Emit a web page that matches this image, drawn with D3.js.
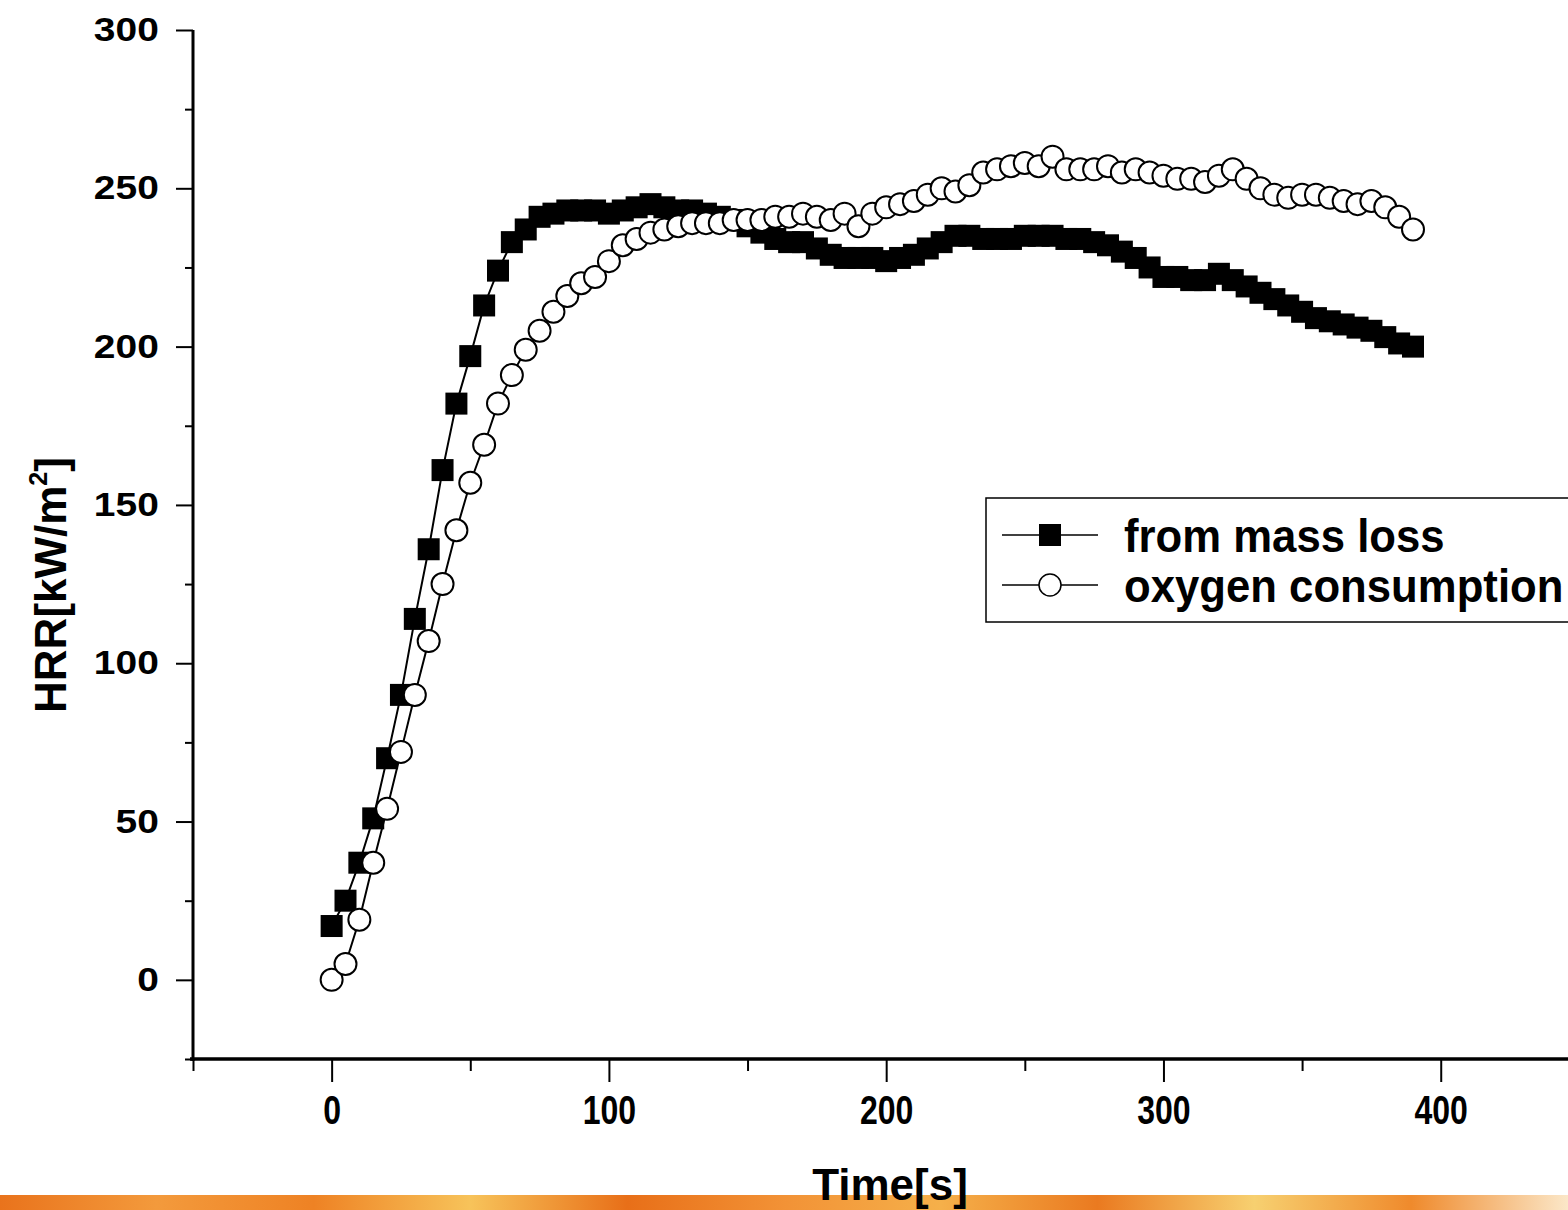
<!DOCTYPE html>
<html>
<head>
<meta charset="utf-8">
<script src="https://cdn.jsdelivr.net/npm/d3@7"></script>
<style>
  html, body { margin: 0; padding: 0; background: #fff; overflow: hidden; }
  text { font-family: "Liberation Sans", Arial, sans-serif; font-weight: bold; fill: #000; }
</style>
</head>
<body>
<script>
// time in seconds, every 5 s
const times = d3.range(0, 395, 5);

// HRR from mass loss (kW/m2)
const massLoss = [17, 25, 37, 51, 70, 90, 114, 136, 161, 182, 197, 213, 224, 233, 237, 241, 242, 243, 243, 243,
  242, 243, 244, 245, 244, 243, 243, 242, 241, 240, 238, 236, 234, 233, 233, 231, 229, 228, 228, 228,
  227, 228, 229, 231, 233, 235, 235, 234, 234, 234, 235, 235, 235, 234, 234, 233, 232, 230, 228, 225,
  222, 222, 221, 221, 223, 221, 219, 217, 215, 213, 211, 209, 208, 207, 206, 205, 203, 201, 200];

// HRR from oxygen consumption (kW/m2)
const oxygen = [0, 5, 19, 37, 54, 72, 90, 107, 125, 142, 157, 169, 182, 191, 199, 205, 211, 216, 220, 222,
  227, 232, 234, 236, 237, 238, 239, 239, 239, 240, 240, 240, 241, 241, 242, 241, 240, 242, 238, 242,
  244, 245, 246, 248, 250, 249, 251, 255, 256, 257, 258, 257, 260, 256, 256, 256, 257, 255, 256, 255,
  254, 253, 253, 252, 254, 256, 253, 250, 248, 247, 248, 248, 247, 246, 245, 246, 244, 241, 237];

const xMajor = [0, 100, 200, 300, 400];
const xMinor = [-50, 50, 150, 250, 350, 450];
const yMajor = [0, 50, 100, 150, 200, 250, 300];
const yMinor = [-25, 25, 75, 125, 175, 225, 275];
const legendLabels = ["from mass loss", "oxygen consumption"];

const W = 1568, H = 1210;
const svg = d3.select("body").append("svg").attr("width", W).attr("height", H);

const x = d3.scaleLinear().domain([-50, 500]).range([193, 1718]);
const y = d3.scaleLinear().domain([-25, 300]).range([1059, 30]);

// orange strip at the bottom (slide background)
const grad = svg.append("defs").append("linearGradient").attr("id", "strip");
["#e9731c", "#f39a3c", "#ee8224", "#f7c35a", "#e86f18", "#f29236", "#f5b04a", "#ea7a20", "#f7d070", "#ef8a2c", "#fbe7c8"]
  .forEach((c, i, a) => grad.append("stop").attr("offset", i / (a.length - 1)).attr("stop-color", c));
svg.append("rect").attr("x", 0).attr("y", 1195).attr("width", W).attr("height", 15).attr("fill", "url(#strip)");

// axes
const gx = svg.append("g").attr("transform", `translate(0,${y(-25)})`);
gx.call(d3.axisBottom(x).tickValues(xMajor).tickSize(23).tickPadding(12).tickFormat(d3.format("d")));
gx.append("g").call(d3.axisBottom(x).tickValues(xMinor).tickSize(12).tickFormat(""));
gx.selectAll(".domain").remove();
gx.append("line").attr("x1", 190).attr("x2", W).attr("stroke", "#000").attr("stroke-width", 3.5);
gx.selectAll(".tick line").attr("stroke-width", 2);
gx.selectAll(".tick text").attr("font-size", 40).attr("transform", "scale(0.8,1)").attr("dy", "0.75em");

const gy = svg.append("g").attr("transform", `translate(${x(-50)},0)`);
gy.call(d3.axisLeft(y).tickValues(yMajor).tickSize(17).tickPadding(12).tickFormat(d3.format("d")));
gy.append("g").call(d3.axisLeft(y).tickValues(yMinor).tickSize(8).tickFormat(""));
gy.selectAll(".domain").remove();
gy.append("line").attr("y1", y(300)).attr("y2", y(-25) + 2).attr("stroke", "#000").attr("stroke-width", 3);
gy.selectAll(".tick line").attr("stroke-width", 2);
gy.selectAll(".tick text").attr("font-size", 33).attr("transform", "scale(1.18,1)");

// axis titles
svg.append("text").attr("x", 890).attr("y", 1200).attr("text-anchor", "middle")
  .attr("font-size", 44).text("Time[s]");
const yt = svg.append("text").attr("transform", "translate(66,585) rotate(-90)")
  .attr("text-anchor", "middle").attr("font-size", 44);
yt.append("tspan").text("HRR[kW/m");
yt.append("tspan").attr("font-size", 25).attr("dy", -19).text("2");
yt.append("tspan").attr("dy", 19).text("]");

// series
const line = d3.line().x((d, i) => x(times[i])).y(d => y(d));
const sq = 22;

const s1 = svg.append("g");
s1.append("path").datum(massLoss).attr("d", line).attr("fill", "none").attr("stroke", "#000").attr("stroke-width", 2);
s1.selectAll("rect").data(massLoss).join("rect")
  .attr("x", (d, i) => x(times[i]) - sq / 2).attr("y", d => y(d) - sq / 2)
  .attr("width", sq).attr("height", sq).attr("fill", "#000");

const s2 = svg.append("g");
s2.append("path").datum(oxygen).attr("d", line).attr("fill", "none").attr("stroke", "#000").attr("stroke-width", 2);
s2.selectAll("circle").data(oxygen).join("circle")
  .attr("cx", (d, i) => x(times[i])).attr("cy", d => y(d)).attr("r", 11)
  .attr("fill", "#fff").attr("stroke", "#000").attr("stroke-width", 2);

// legend
const lg = svg.append("g");
lg.append("rect").attr("x", 986).attr("y", 498).attr("width", 700).attr("height", 124)
  .attr("fill", "#fff").attr("stroke", "#000").attr("stroke-width", 1.5);
legendLabels.forEach((lab, i) => {
  const cy = 535 + i * 50;
  lg.append("line").attr("x1", 1002).attr("x2", 1098).attr("y1", cy).attr("y2", cy)
    .attr("stroke", "#000").attr("stroke-width", 1.5);
  if (i === 0) {
    lg.append("rect").attr("x", 1050 - sq / 2).attr("y", cy - sq / 2).attr("width", sq).attr("height", sq).attr("fill", "#000");
  } else {
    lg.append("circle").attr("cx", 1050).attr("cy", cy).attr("r", 11)
      .attr("fill", "#fff").attr("stroke", "#000").attr("stroke-width", 1.5);
  }
  lg.append("text").attr("transform", `translate(1124,${cy + 17}) scale(0.95,1)`)
    .attr("font-size", 46).text(lab);
});
</script>
</body>
</html>
